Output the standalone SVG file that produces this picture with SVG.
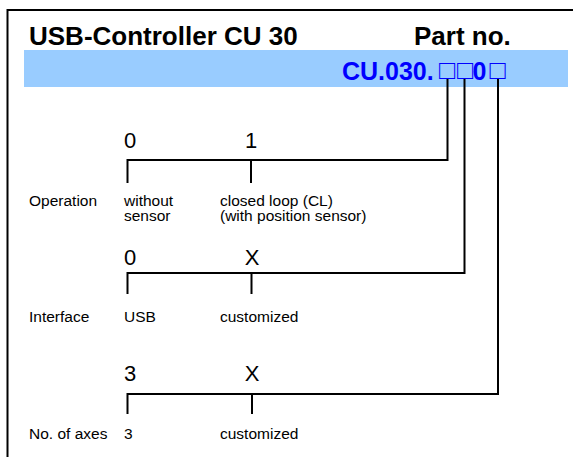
<svg xmlns="http://www.w3.org/2000/svg" width="573" height="457" viewBox="0 0 573 457">
<style>
text{font-family:"Liberation Sans",Arial,sans-serif;fill:#000}
.title{font-size:26px;font-weight:bold}
.pn{font-size:25px;font-weight:bold;fill:#0000ff}
.box{font-size:27px;font-weight:normal;fill:#0000ff}
.dig{font-size:22px}
.lbl{font-size:15.5px}
.conn{fill:none;stroke:#000;stroke-width:2;stroke-linecap:square}
</style>
<rect x="7.5" y="10" width="620" height="520" fill="#fff" stroke="#000" stroke-width="2"/>
<g id="header">
<text class="title" x="29" y="45">USB-Controller CU 30</text>
<text class="title" x="414" y="45">Part no.</text>
<rect x="24" y="50" width="544" height="37" fill="#99ccff"/>
<text class="pn" x="342" y="80">CU.030.<tspan class="box" x="439" dy="-1.5">□</tspan><tspan class="box" x="457">□</tspan><tspan x="472.5" dy="1.5">0</tspan><tspan class="box" x="489.5" dy="-1.5">□</tspan></text>
</g>
<g id="connectors">
<path class="conn" d="M447.5,80 V160 H127.5 V182 M251,160 V182"/>
<path class="conn" d="M464.5,80 V273 H127.5 V293 M251.5,273 V293"/>
<path class="conn" d="M498,80 V394 H127.5 V413 M252,394 V413"/>
</g>
<g id="operation">
<text class="dig" x="124" y="148">0</text>
<text class="dig" x="251" y="148" text-anchor="middle">1</text>
<text class="lbl" x="29" y="206">Operation</text>
<text class="lbl" x="124" y="206">without<tspan x="124" dy="14.5">sensor</tspan></text>
<text class="lbl" x="220" y="206">closed loop (CL)<tspan x="220" dy="14.5">(with position sensor)</tspan></text>
</g>
<g id="interface">
<text class="dig" x="124" y="265">0</text>
<text class="dig" x="252" y="265" text-anchor="middle">X</text>
<text class="lbl" x="29" y="322">Interface</text>
<text class="lbl" x="124" y="322">USB</text>
<text class="lbl" x="220" y="322">customized</text>
</g>
<g id="axes">
<text class="dig" x="124" y="381">3</text>
<text class="dig" x="252" y="381" text-anchor="middle">X</text>
<text class="lbl" x="29" y="438.5">No. of axes</text>
<text class="lbl" x="124" y="438.5">3</text>
<text class="lbl" x="220" y="438.5">customized</text>
</g>
</svg>
